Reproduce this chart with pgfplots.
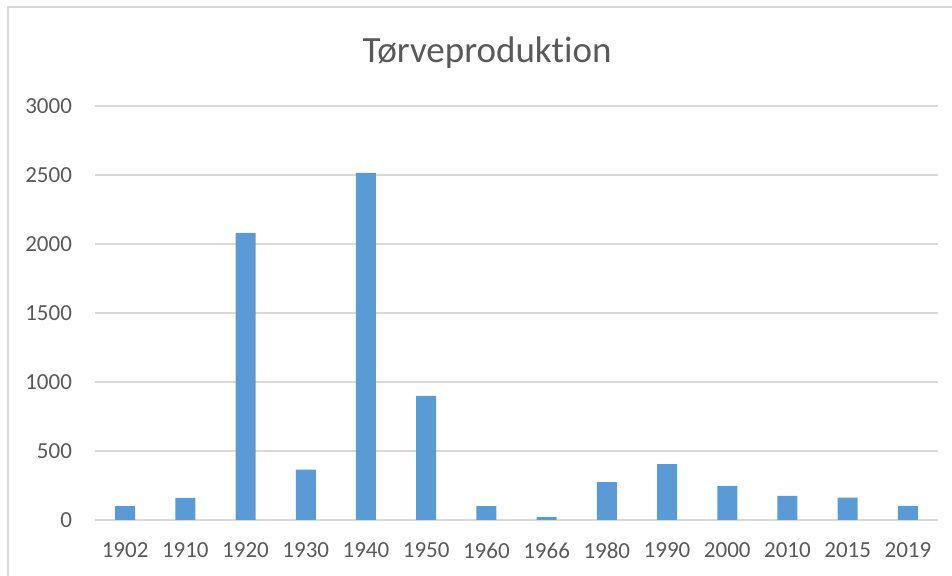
\documentclass[border=0pt]{standalone}
\usepackage{pgfplots}
\pgfplotsset{compat=1.18}
\usepackage{fontspec}
\setmainfont{Carlito}[Ligatures=NoCommon]
\definecolor{barblue}{HTML}{5B9BD5}
\definecolor{gridgray}{HTML}{D9D9D9}
\definecolor{txtgray}{HTML}{595959}
\definecolor{framegray}{HTML}{D9D9D9}
\begin{document}
\begin{tikzpicture}
\useasboundingbox (-47.5pt,-28pt) rectangle (428.5pt,260pt);
\draw[framegray, line width=0.75pt] (-43.5pt,-28pt) -- (-43.5pt,256.5pt) -- (428.5pt,256.5pt);
\begin{axis}[
  at={(0pt,0pt)}, anchor=south west,
  scale only axis, width=421.5pt, height=207pt,
  ybar, bar width=10pt,
  xmin=-0.5, xmax=13.5, ymin=0, ymax=3000,
  ytick={0,500,...,3000},
  xtick=data,
  xticklabels={1902,1910,1920,1930,1940,1950,1960,1966,1980,1990,2000,2010,2015,2019},
  axis line style={draw=none},
  tick style={draw=none},
  major tick length=0pt,
  ymajorgrids,
  grid style={gridgray, line width=0.75pt},
  ticklabel style={font=\fontsize{11.5pt}{13pt}\selectfont, text=txtgray},
  yticklabel style={xshift=-8pt},
  xticklabel style={yshift=-8pt},
  /pgf/number format/assume math mode=true,
  /pgf/number format/1000 sep={},
]
\addplot[fill=barblue, draw=none] coordinates {
(0,100) (1,160) (2,2080) (3,365) (4,2515) (5,900) (6,100) (7,20)
(8,275) (9,405) (10,248) (11,175) (12,162) (13,102)};
\end{axis}
\node[text=txtgray, font=\fontsize{18.5pt}{22pt}\selectfont] at (196pt,233.5pt) {Tørveproduktion};
\end{tikzpicture}
\end{document}
